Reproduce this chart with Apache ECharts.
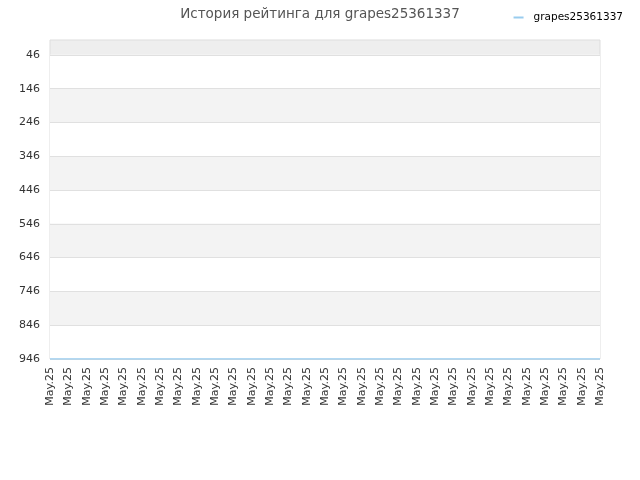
<!DOCTYPE html>
<html>
<head>
<meta charset="utf-8">
<script src="https://cdn.jsdelivr.net/npm/echarts@6/dist/echarts.min.js"></script>
<style>
  html, body { margin: 0; padding: 0; background: #fff; }
  #chart { width: 640px; height: 480px; }
</style>
</head>
<body>
<div id="chart"></div>
<script>
// история рейтинга

const playerName = 'grapes25361337';
const days = ['May.25','May.25','May.25','May.25','May.25','May.25','May.25','May.25','May.25','May.25',
  'May.25','May.25','May.25','May.25','May.25','May.25','May.25','May.25','May.25','May.25',
  'May.25','May.25','May.25','May.25','May.25','May.25','May.25','May.25','May.25','May.25','May.25'];
const ranks = [946,946,946,946,946,946,946,946,946,946,
  946,946,946,946,946,946,946,946,946,946,
  946,946,946,946,946,946,946,946,946,946,946];
const yTicks = [46,146,246,346,446,546,646,746,846,946];

const myChart = echarts.init(document.getElementById('chart'));

const option = {
  animation: false,
  title: {
    text: 'История рейтинга для ' + playerName,
    left: 'center',
    top: 2,
    textStyle: { fontSize: 13.5, fontWeight: 'normal', color: '#555', fontFamily: 'DejaVu Sans' }
  },
  legend: {
    right: 12,
    top: 7,
    itemWidth: 10,
    itemHeight: 2,
    icon: 'rect',
    textStyle: { fontSize: 10.5, color: '#000', fontFamily: 'DejaVu Sans', padding: [0, 0, 0, 5] },
    data: [playerName]
  },
  grid: {
    left: 50,
    right: 40,
    top: 40,
    bottom: 121,
    show: true,
    backgroundColor: '#eeeeee',
    borderColor: '#ddd',
    borderWidth: 1
  },
  xAxis: {
    type: 'category',
    boundaryGap: false,
    data: days,
    axisLine: { show: false },
    axisTick: { show: false },
    axisLabel: {
      interval: 0,
      rotate: 90,
      fontSize: 11,
      color: '#333',
      fontFamily: 'DejaVu Sans'
    }
  },
  yAxis: {
    type: 'value',
    inverse: true,
    min: 2,
    max: 946,
    axisLine: { show: false },
    axisTick: { show: false, customValues: yTicks },
    axisLabel: {
      customValues: yTicks,
      fontSize: 11,
      color: '#333',
      margin: 10,
      fontFamily: 'DejaVu Sans'
    },
    splitLine: { show: true, lineStyle: { color: '#e0e0e0' } },
    splitArea: {
      show: true,
      areaStyle: { color: ['#ffffff', '#f3f3f3'] }
    }
  },
  series: [
    {
      name: playerName,
      type: 'line',
      data: ranks,
      showSymbol: false,
      lineStyle: { color: '#99ccee', width: 1.5 },
      itemStyle: { color: '#99ccee' }
    }
  ]
};

myChart.setOption(option);
</script>
</body>
</html>
